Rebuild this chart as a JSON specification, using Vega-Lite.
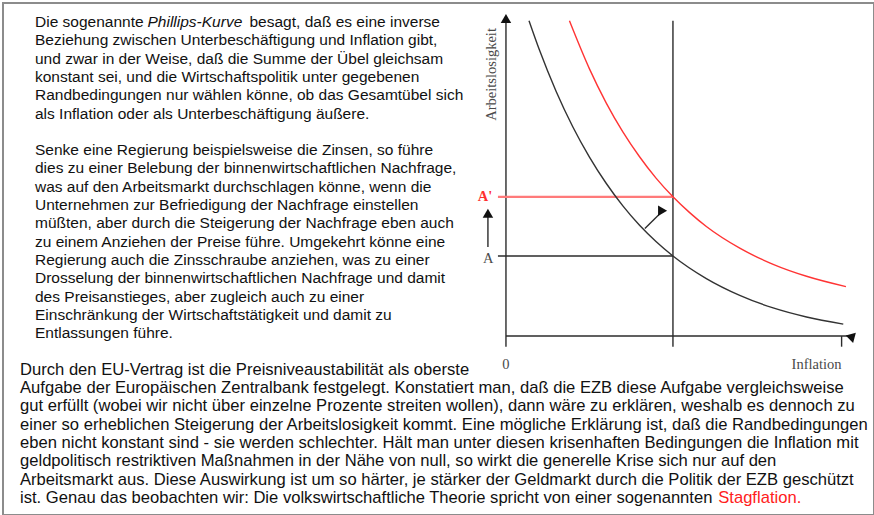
{
  "$schema": "https://vega.github.io/schema/vega-lite/v6.json",
  "width": 874,
  "height": 515,
  "autosize": {"type": "fit", "contains": "padding"},
  "padding": {"left": 3, "top": 3, "right": 0, "bottom": 0},
  "background": "white",
  "config": {"view": {"stroke": "#8c8c8c", "strokeWidth": 2}},
  "datasets": {
    "lines": [
      {"para": 1, "line": 0, "char": 2, "text": "Die sogenannte", "part": "normal"},
      {"para": 1, "line": 0, "char": 17, "text": "Phillips-Kurve", "part": "term"},
      {"para": 1, "line": 0, "char": 30.6, "text": "besagt, daß es eine inverse", "part": "normal"},
      {"para": 1, "line": 1, "char": 2, "text": "Beziehung zwischen Unterbeschäftigung und Inflation gibt,", "part": "normal"},
      {"para": 1, "line": 2, "char": 2, "text": "und zwar in der Weise, daß die Summe der Übel gleichsam", "part": "normal"},
      {"para": 1, "line": 3, "char": 2, "text": "konstant sei, und die Wirtschaftspolitik unter gegebenen", "part": "normal"},
      {"para": 1, "line": 4, "char": 2, "text": "Randbedingungen nur wählen könne, ob das Gesamtübel sich", "part": "normal"},
      {"para": 1, "line": 5, "char": 2, "text": "als Inflation oder als Unterbeschäftigung äußere.", "part": "normal"},
      {"para": 2, "line": 7, "char": 2, "text": "Senke eine Regierung beispielsweise die Zinsen, so führe", "part": "normal"},
      {"para": 2, "line": 8, "char": 2, "text": "dies zu einer Belebung der binnenwirtschaftlichen Nachfrage,", "part": "normal"},
      {"para": 2, "line": 9, "char": 2, "text": "was auf den Arbeitsmarkt durchschlagen könne, wenn die", "part": "normal"},
      {"para": 2, "line": 10, "char": 2, "text": "Unternehmen zur Befriedigung der Nachfrage einstellen", "part": "normal"},
      {"para": 2, "line": 11, "char": 2, "text": "müßten, aber durch die Steigerung der Nachfrage eben auch", "part": "normal"},
      {"para": 2, "line": 12, "char": 2, "text": "zu einem Anziehen der Preise führe. Umgekehrt könne eine", "part": "normal"},
      {"para": 2, "line": 13, "char": 2, "text": "Regierung auch die Zinsschraube anziehen, was zu einer", "part": "normal"},
      {"para": 2, "line": 14, "char": 2, "text": "Drosselung der binnenwirtschaftlichen Nachfrage und damit", "part": "normal"},
      {"para": 2, "line": 15, "char": 2, "text": "des Preisanstieges, aber zugleich auch zu einer", "part": "normal"},
      {"para": 2, "line": 16, "char": 2, "text": "Einschränkung der Wirtschaftstätigkeit und damit zu", "part": "normal"},
      {"para": 2, "line": 17, "char": 2, "text": "Entlassungen führe.", "part": "normal"},
      {"para": 3, "line": 19, "char": 0, "text": "Durch den EU-Vertrag ist die Preisniveaustabilität als oberste", "part": "normal"},
      {"para": 3, "line": 20, "char": 0, "text": "Aufgabe der Europäischen Zentralbank festgelegt. Konstatiert man, daß die EZB diese Aufgabe vergleichsweise", "part": "normal"},
      {"para": 3, "line": 21, "char": 0, "text": "gut erfüllt (wobei wir nicht über einzelne Prozente streiten wollen), dann wäre zu erklären, weshalb es dennoch zu", "part": "normal"},
      {"para": 3, "line": 22, "char": 0, "text": "einer so erheblichen Steigerung der Arbeitslosigkeit kommt. Eine mögliche Erklärung ist, daß die Randbedingungen", "part": "normal"},
      {"para": 3, "line": 23, "char": 0, "text": "eben nicht konstant sind - sie werden schlechter. Hält man unter diesen krisenhaften Bedingungen die Inflation mit", "part": "normal"},
      {"para": 3, "line": 24, "char": 0, "text": "geldpolitisch restriktiven Maßnahmen in der Nähe von null, so wirkt die generelle Krise sich nur auf den", "part": "normal"},
      {"para": 3, "line": 25, "char": 0, "text": "Arbeitsmarkt aus. Diese Auswirkung ist um so härter, je stärker der Geldmarkt durch die Politik der EZB geschützt", "part": "normal"},
      {"para": 3, "line": 26, "char": 0, "text": "ist. Genau das beobachten wir: Die volkswirtschaftliche Theorie spricht von einer sogenannten", "part": "normal"},
      {"para": 3, "line": 26, "char": 93.1, "text": "Stagflation.", "part": "key"}
    ],
    "curves": [
      {"curve": "Ausgangskurve", "u": 0.69, "v": 9.76},
      {"curve": "Ausgangskurve", "u": 1.0, "v": 8.86},
      {"curve": "Ausgangskurve", "u": 1.5, "v": 7.58},
      {"curve": "Ausgangskurve", "u": 2.0, "v": 6.48},
      {"curve": "Ausgangskurve", "u": 2.5, "v": 5.54},
      {"curve": "Ausgangskurve", "u": 3.0, "v": 4.73},
      {"curve": "Ausgangskurve", "u": 3.5, "v": 4.03},
      {"curve": "Ausgangskurve", "u": 4.0, "v": 3.43},
      {"curve": "Ausgangskurve", "u": 4.5, "v": 2.92},
      {"curve": "Ausgangskurve", "u": 5.0, "v": 2.48},
      {"curve": "Ausgangskurve", "u": 6.0, "v": 1.78},
      {"curve": "Ausgangskurve", "u": 7.0, "v": 1.26},
      {"curve": "Ausgangskurve", "u": 8.0, "v": 0.87},
      {"curve": "Ausgangskurve", "u": 9.0, "v": 0.59},
      {"curve": "Ausgangskurve", "u": 10.1, "v": 0.37},
      {"curve": "Verschobene Kurve", "u": 1.9, "v": 9.76},
      {"curve": "Verschobene Kurve", "u": 2.5, "v": 8.27},
      {"curve": "Verschobene Kurve", "u": 3.0, "v": 7.22},
      {"curve": "Verschobene Kurve", "u": 3.5, "v": 6.32},
      {"curve": "Verschobene Kurve", "u": 4.0, "v": 5.55},
      {"curve": "Verschobene Kurve", "u": 4.5, "v": 4.88},
      {"curve": "Verschobene Kurve", "u": 5.0, "v": 4.31},
      {"curve": "Verschobene Kurve", "u": 5.5, "v": 3.82},
      {"curve": "Verschobene Kurve", "u": 6.0, "v": 3.39},
      {"curve": "Verschobene Kurve", "u": 7.0, "v": 2.72},
      {"curve": "Verschobene Kurve", "u": 8.0, "v": 2.22},
      {"curve": "Verschobene Kurve", "u": 9.0, "v": 1.85},
      {"curve": "Verschobene Kurve", "u": 10.18, "v": 1.53}
    ],
    "segments": [
      {"kind": "axis", "u": 0, "u2": 0, "v": -0.33, "v2": 9.8},
      {"kind": "axis", "u": 0, "u2": 10.35, "v": 0, "v2": 0},
      {"kind": "axis", "u": 5, "u2": 5, "v": -0.33, "v2": 9.76},
      {"kind": "axis", "u": 10.05, "u2": 10.05, "v": -0.33, "v2": 0},
      {"kind": "axis", "u": -0.24, "u2": 5, "v": 2.48, "v2": 2.48},
      {"kind": "axis", "u": 4.16, "u2": 4.66, "v": 3.33, "v2": 3.84},
      {"kind": "axis", "u": -0.54, "u2": -0.54, "v": 2.76, "v2": 3.7},
      {"kind": "shifted", "u": -0.24, "u2": 5, "v": 4.31, "v2": 4.31}
    ],
    "heads": [
      {"u": 0, "v": 9.83, "dir": "up"},
      {"u": 10.38, "v": 0, "dir": "right"},
      {"u": 4.69, "v": 3.88, "dir": "diag"},
      {"u": -0.54, "v": 3.8, "dir": "up"}
    ],
    "labels": [
      {"u": -0.43, "v": 8.1, "label": "Arbeitslosigkeit", "role": "ytitle"},
      {"u": 0, "v": -0.9, "label": "0", "role": "plain"},
      {"u": 9.3, "v": -0.9, "label": "Inflation", "role": "plain"},
      {"u": -0.53, "v": 2.4, "label": "A", "role": "plain"},
      {"u": -0.63, "v": 4.31, "label": "A'", "role": "shifted"}
    ]
  },
  "layer": [
    {
      "data": {"name": "lines"},
      "encoding": {
        "x": {"field": "char", "type": "quantitative", "axis": null, "scale": {"domain": [-2.267, 113.87], "nice": false, "zero": false}},
        "y": {"field": "line", "type": "quantitative", "axis": null, "scale": {"domain": [-1.04, 26.94], "nice": false, "zero": false, "reverse": true}},
        "text": {"field": "text"}
      },
      "layer": [
        {
          "transform": [{"filter": "datum.para != 3 && datum.part == 'normal'"}],
          "mark": {"type": "text", "align": "left", "baseline": "middle", "font": "Liberation Sans, Arial, sans-serif", "fontSize": 15.5, "color": "#111111"}
        },
        {
          "transform": [{"filter": "datum.part == 'term'"}],
          "mark": {"type": "text", "align": "left", "baseline": "middle", "font": "Liberation Sans, Arial, sans-serif", "fontSize": 15.5, "fontStyle": "italic", "color": "#111111"}
        },
        {
          "transform": [{"filter": "datum.para == 3 && datum.part == 'normal'"}],
          "mark": {"type": "text", "align": "left", "baseline": "middle", "font": "Liberation Sans, Arial, sans-serif", "fontSize": 16.6, "color": "#111111"}
        },
        {
          "transform": [{"filter": "datum.part == 'key'"}],
          "mark": {"type": "text", "align": "left", "baseline": "middle", "font": "Liberation Sans, Arial, sans-serif", "fontSize": 16.6, "color": "#ff2020"}
        }
      ]
    },
    {
      "encoding": {
        "x": {"field": "u", "type": "quantitative", "axis": null, "scale": {"domain": [-15.06, 11.02], "nice": false, "zero": false}},
        "y": {"field": "v", "type": "quantitative", "axis": null, "scale": {"domain": [-5.54, 10.31], "nice": false, "zero": false}}
      },
      "layer": [
        {
          "data": {"name": "segments"},
          "transform": [{"filter": "datum.kind == 'axis'"}],
          "mark": {"type": "rule", "color": "#2b2b2b", "strokeWidth": 1.4},
          "encoding": {"x2": {"field": "u2"}, "y2": {"field": "v2"}}
        },
        {
          "data": {"name": "segments"},
          "transform": [{"filter": "datum.kind == 'shifted'"}],
          "mark": {"type": "rule", "color": "#ff7a7a", "strokeWidth": 2.2},
          "encoding": {"x2": {"field": "u2"}, "y2": {"field": "v2"}}
        },
        {
          "data": {"name": "curves"},
          "mark": {"type": "line", "interpolate": "monotone", "strokeWidth": 1.4},
          "encoding": {
            "color": {"field": "curve", "type": "nominal", "legend": null, "scale": {"domain": ["Ausgangskurve", "Verschobene Kurve"], "range": ["#333333", "#ff3434"]}},
            "order": {"field": "u", "type": "quantitative"}
          }
        },
        {
          "data": {"name": "heads"},
          "mark": {"type": "point", "shape": "triangle-up", "filled": true, "opacity": 1, "color": "#111111", "size": 110},
          "encoding": {
            "angle": {"field": "dir", "type": "nominal", "scale": {"domain": ["up", "right", "diag"], "range": [0, 90, 45]}, "legend": null}
          }
        },
        {
          "data": {"name": "labels"},
          "transform": [{"filter": "datum.role == 'ytitle'"}],
          "mark": {"type": "text", "angle": 270, "align": "center", "baseline": "middle", "font": "Liberation Serif, Times New Roman, serif", "fontSize": 14.5, "color": "#4a4a4a"},
          "encoding": {"text": {"field": "label"}}
        },
        {
          "data": {"name": "labels"},
          "transform": [{"filter": "datum.role == 'plain'"}],
          "mark": {"type": "text", "align": "center", "baseline": "middle", "font": "Liberation Serif, Times New Roman, serif", "fontSize": 14.5, "color": "#4a4a4a"},
          "encoding": {"text": {"field": "label"}}
        },
        {
          "data": {"name": "labels"},
          "transform": [{"filter": "datum.role == 'shifted'"}],
          "mark": {"type": "text", "align": "center", "baseline": "middle", "font": "Liberation Serif, Times New Roman, serif", "fontSize": 14.5, "fontWeight": "bold", "color": "#ff3030"},
          "encoding": {"text": {"field": "label"}}
        }
      ]
    }
  ],
  "resolve": {"scale": {"x": "independent", "y": "independent"}}
}
